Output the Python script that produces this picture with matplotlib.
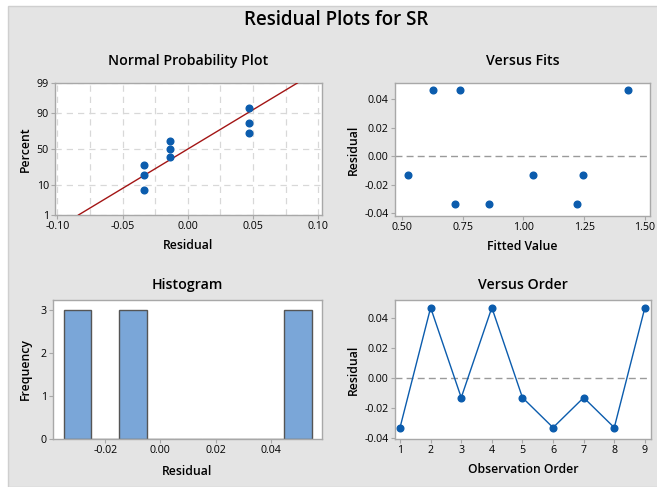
import numpy as np
import matplotlib
matplotlib.use('Agg')
import matplotlib.pyplot as plt
from matplotlib.patches import Rectangle
from statistics import NormalDist

# Данные
residuals = [-0.0333, 0.0467, -0.0133, 0.0467, -0.0133, -0.0333, -0.0133, -0.0333, 0.0467]
fits = [0.72, 0.63, 0.525, 0.74, 1.04, 0.86, 1.245, 1.22, 1.43]
order = [1, 2, 3, 4, 5, 6, 7, 8, 9]
pct_ticks = [1, 10, 50, 90, 99]
hist_edges = [-0.035, -0.025, -0.015, -0.005, 0.005, 0.015, 0.025, 0.035, 0.045, 0.055]

plt.rcParams['font.family'] = ['Open Sans', 'DejaVu Sans']

W, H = 657, 487
fig = plt.figure(figsize=(W / 100, H / 100), dpi=100)
fig.patch.set_facecolor('white')

# серый фон как в Minitab
fig.patches.append(Rectangle((8 / W, 0), 1, 1 - 6 / H, transform=fig.transFigure,
                             facecolor='#e4e4e4', edgecolor='#cfcfcf', lw=1, zorder=-10))

blue = '#0b5cad'
spine_c = '#a8a8a8'
grid_c = '#d8d8d8'
tick_fs = 7.7
lab_fs = 8.8
tit_fs = 10.2


def px_axes(l, t, r, b):
    return fig.add_axes([l / W, 1 - b / H, (r - l) / W, (b - t) / H])


def style(ax):
    for s in ax.spines.values():
        s.set_color(spine_c)
        s.set_linewidth(1)
    ax.tick_params(direction='out', length=3, width=0.8, color=spine_c,
                   labelsize=tick_fs, pad=1.5)
    ax.set_facecolor('white')


def title(ax, text, pad):
    ax.set_title(text, fontsize=tit_fs, fontweight='semibold', pad=pad)


fig.text(336 / W, 1 - 20 / H, 'Residual Plots for SR', ha='center', va='center',
         fontsize=13.5, fontweight='semibold')

# Normal Probability Plot
nd = NormalDist()
n = len(residuals)
srt = np.sort(residuals)
pp = [(i - 0.3) / (n + 0.4) for i in range(1, n + 1)]
z = [nd.inv_cdf(p) for p in pp]
mu = np.mean(residuals)
sd = np.std(residuals, ddof=1)
zlo, zhi = nd.inv_cdf(0.01), nd.inv_cdf(0.99)

ax1 = px_axes(55, 83, 322, 215)
style(ax1)
ax1.set_xlim(-0.1018, 0.1028)
ax1.set_ylim(zlo, zhi)
ax1.set_xticks([-0.10, -0.05, 0.00, 0.05, 0.10])
ax1.set_xticklabels(['-0.10', '-0.05', '0.00', '0.05', '0.10'])
ax1.set_xticks([-0.075, -0.025, 0.025, 0.075], minor=True)
ax1.tick_params(which='minor', length=0)
ax1.set_yticks([nd.inv_cdf(p / 100) for p in pct_ticks])
ax1.set_yticklabels([str(p) for p in pct_ticks])
ax1.grid(True, which='both', color=grid_c, ls=(0, (5, 4)), lw=0.9)
ax1.set_axisbelow(True)
ax1.plot([mu + sd * zlo, mu + sd * zhi], [zlo, zhi], color='#a31515', lw=1, zorder=3)
ax1.plot(srt, z, 'o', color=blue, ms=4.8, zorder=4)
ax1.set_xlabel('Residual', fontsize=lab_fs, fontweight='semibold', labelpad=5)
ax1.set_ylabel('Percent', fontsize=lab_fs, fontweight='semibold', labelpad=3)
title(ax1, 'Normal Probability Plot', 13)

# Versus Fits
ax2 = px_axes(395, 83, 650, 216)
style(ax2)
ax2.set_xlim(0.4725, 1.5205)
ax2.set_ylim(-0.0419, 0.0514)
ax2.set_xticks([0.5, 0.75, 1.0, 1.25, 1.5])
ax2.set_xticklabels(['0.50', '0.75', '1.00', '1.25', '1.50'])
ax2.set_yticks([-0.04, -0.02, 0.0, 0.02, 0.04])
ax2.set_yticklabels(['-0.04', '-0.02', '0.00', '0.02', '0.04'])
ax2.axhline(0, color='#9a9a9a', ls=(0, (5, 3)), lw=1)
ax2.plot(fits, residuals, 'o', color=blue, ms=4.8)
ax2.set_xlabel('Fitted Value', fontsize=lab_fs, fontweight='semibold', labelpad=5)
ax2.set_ylabel('Residual', fontsize=lab_fs, fontweight='semibold', labelpad=3)
title(ax2, 'Versus Fits', 13)

# Histogram
ax3 = px_axes(53, 300, 322, 439)
style(ax3)
ax3.hist(residuals, bins=hist_edges, color='#7aa6d8', edgecolor='#555555', lw=1)
ax3.set_xlim(-0.0389, 0.0586)
ax3.set_ylim(0, 3.23)
ax3.set_xticks([-0.02, 0.0, 0.02, 0.04])
ax3.set_xticklabels(['-0.02', '0.00', '0.02', '0.04'])
ax3.set_yticks([0, 1, 2, 3])
ax3.set_xlabel('Residual', fontsize=lab_fs, fontweight='semibold', labelpad=6)
ax3.set_ylabel('Frequency', fontsize=lab_fs, fontweight='semibold', labelpad=6)
title(ax3, 'Histogram', 8)

# Versus Order
ax4 = px_axes(395, 300, 651, 439)
style(ax4)
ax4.set_xlim(0.836, 9.2)
ax4.set_ylim(-0.0409, 0.0518)
ax4.set_xticks(order)
ax4.set_yticks([-0.04, -0.02, 0.0, 0.02, 0.04])
ax4.set_yticklabels(['-0.04', '-0.02', '0.00', '0.02', '0.04'])
ax4.axhline(0, color='#9a9a9a', ls=(0, (5, 3)), lw=1)
ax4.plot(order, residuals, '-o', color=blue, lw=1, ms=4.8)
ax4.set_xlabel('Observation Order', fontsize=lab_fs, fontweight='semibold', labelpad=5)
ax4.set_ylabel('Residual', fontsize=lab_fs, fontweight='semibold', labelpad=3)
title(ax4, 'Versus Order', 8)

fig.savefig('out.png', dpi=100)
